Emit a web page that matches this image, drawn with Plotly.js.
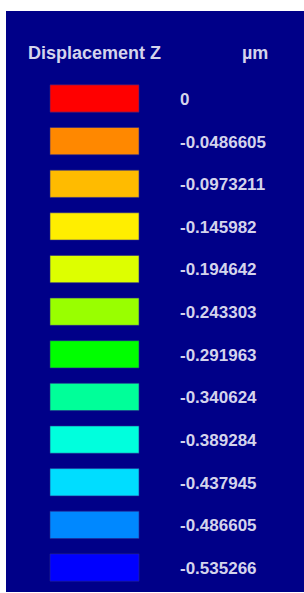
<!DOCTYPE html>
<html>
<head>
<meta charset="utf-8">
<script src="https://cdn.plot.ly/plotly-3.0.1.min.js"></script>
<style>html,body{margin:0;padding:0;background:#fff;}#chart{width:304px;height:593px;}</style>
</head>
<body>
<div id="chart"></div>
<script>
// ---- data ----
const legendTitle = "Displacement Z";
const unitLabel = "µm";
const levelLabels = ["0","-0.0486605","-0.0973211","-0.145982","-0.194642","-0.243303",
  "-0.291963","-0.340624","-0.389284","-0.437945","-0.486605","-0.535266"];
const levelValues = [0,-0.0486605,-0.0973211,-0.145982,-0.194642,-0.243303,
  -0.291963,-0.340624,-0.389284,-0.437945,-0.486605,-0.535266];
const swatchColors = ["#ff0000","#ff8800","#ffbb00","#ffee00","#ddff00","#99ff00",
  "#00ff00","#00ff99","#00ffdd","#00ddff","#0088ff","#0000ff"];

// ---- layout constants ----
const rowIdx = levelValues.map((v,i)=>i);
const SW_BASE = 44, SW_LEN = 89, LABEL_X = 174, TXT_DY = 0.05;
const txtColor = "#d4d4ec";
const fnt = {family:"Liberation Sans, Arial, sans-serif", size:17, color:txtColor, weight:"bold"};
const hdrFnt = Object.assign({}, fnt, {size:18});

const traces = [
  {type:"bar", orientation:"h", y:rowIdx, x:rowIdx.map(()=>SW_LEN), base:SW_BASE,
   width:0.64, marker:{color:swatchColors, line:{color:"rgba(40,40,140,0.6)", width:1}},
   hoverinfo:"skip", customdata:levelValues},
  {type:"scatter", mode:"text", x:rowIdx.map(()=>LABEL_X), y:rowIdx.map(i=>i+TXT_DY), text:levelLabels,
   textposition:"middle right", textfont:fnt, hoverinfo:"skip"},
  {type:"scatter", mode:"text", x:[22, 236], y:[-1.04,-1.04], text:[legendTitle, unitLabel],
   textposition:"middle right", textfont:hdrFnt, hoverinfo:"skip"}
];

const layout = {
  width:304, height:593,
  margin:{l:6, r:0, t:11, b:1, pad:0},
  paper_bgcolor:"#ffffff", plot_bgcolor:"#000088",
  showlegend:false,
  xaxis:{range:[0,298], visible:false, fixedrange:true},
  yaxis:{range:[11.574,-2.052], visible:false, fixedrange:true},
  font:fnt
};
Plotly.newPlot("chart", traces, layout, {staticPlot:true, displayModeBar:false});
</script>
</body>
</html>
